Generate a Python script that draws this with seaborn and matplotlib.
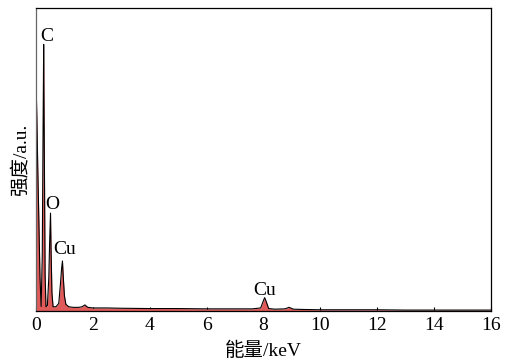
"""EDS spectrum: intensity vs energy"""

import matplotlib
matplotlib.use("Agg")
import matplotlib.pyplot as plt
import pandas as pd
import seaborn as sns

# spectrum (keV, arbitrary counts, axis top = 1000)
ENERGY = [0.00, 0.03, 0.06, 0.10, 0.14, 0.18, 0.22, 0.25, 0.27, 0.29, 0.32, 0.35,
          0.40, 0.45, 0.48, 0.51, 0.53, 0.56, 0.60, 0.70, 0.80, 0.86, 0.90, 0.93,
          0.96, 1.00, 1.05, 1.15, 1.30, 1.50, 1.62, 1.72, 1.82, 2.00, 2.50, 3.00,
          4.00, 5.00, 6.00, 7.00, 7.60, 7.90, 7.98, 8.04, 8.10, 8.18, 8.40, 8.75,
          8.90, 9.05, 9.40, 10.0, 11.0, 12.0, 13.0, 14.0, 15.0, 16.0]
COUNTS = [760, 640, 480, 300, 110, 15, 180, 620, 880, 560, 120, 14,
          18, 110, 230, 323, 200, 60, 14, 14, 25, 90, 140, 165,
          110, 50, 22, 14, 12, 12, 14, 20, 12, 10, 10, 9,
          8, 8, 7, 7, 7, 10, 30, 44, 30, 8, 6, 7,
          12, 6, 5, 4, 4, 4, 3, 3, 3, 3]

PEAK_NAMES = ["C", "O", "Cu", "Cu"]
PEAK_X = [0.39, 0.56, 1.02, 8.05]
PEAK_Y = [890, 335, 188, 52]

XTICKS = list(range(0, 17, 2))

sns.set_theme(style="ticks")
plt.rcParams["font.family"] = ["Liberation Serif", "Noto Sans CJK SC"]
plt.rcParams["text.color"] = "black"
plt.rcParams["axes.labelcolor"] = "black"
plt.rcParams["xtick.color"] = "black"

df = pd.DataFrame({"energy": ENERGY, "counts": COUNTS})

fig = plt.figure(figsize=(5.05, 3.63), dpi=100)
ax = fig.add_axes([0.0713, 0.1433, 0.9010, 0.8347])

ax.fill_between(df["energy"], 0, df["counts"], color="#e05a5a", linewidth=0)
sns.lineplot(data=df, x="energy", y="counts", color="black", linewidth=0.8, ax=ax)

for name, x, y in zip(PEAK_NAMES, PEAK_X, PEAK_Y):
    ax.text(x, y, name, ha="center", va="baseline", fontsize=14)

ax.set_xlim(0, 16)
ax.set_ylim(0, 1000)
ax.set_xticks(XTICKS)
ax.set_yticks([])
ax.tick_params(axis="x", direction="in", length=3, width=0.8, labelsize=14, pad=4)
for side in ["top", "right", "bottom"]:
    ax.spines[side].set_color("black")
    ax.spines[side].set_linewidth(0.9)
ax.spines["left"].set_color("#666666")
ax.spines["left"].set_linewidth(0.9)

ax.set_xlabel("能量/keV", fontsize=14, labelpad=6)
ax.set_ylabel("强度/a.u.", fontsize=14, labelpad=5)

fig.savefig("out.png", dpi=100)
plt.close(fig)
